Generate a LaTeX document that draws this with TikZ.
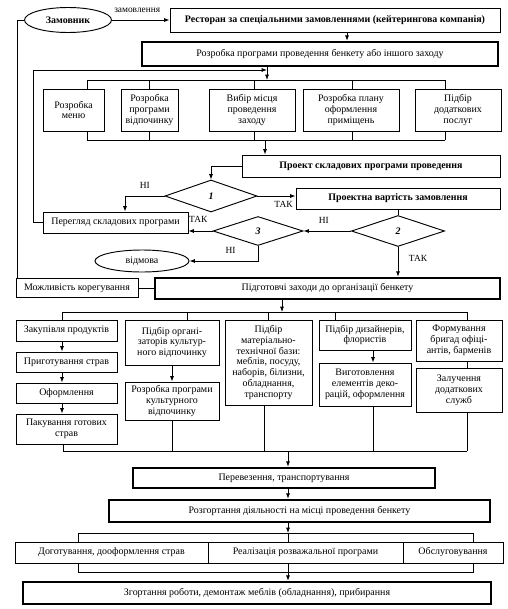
\documentclass[tikz,border=0pt]{standalone}
\usepackage{fontspec}
\setmainfont{Liberation Serif}
\usetikzlibrary{arrows.meta,calc,positioning,shapes.geometric}

\begin{document}
\begin{tikzpicture}[
    x=0.03cm,
    y=-0.03cm,
    font=\fontsize{8.5}{9.2}\selectfont,
    >={Latex[length=1.6mm,width=1.2mm]},
    line width=0.7pt,
    box/.style={draw=black,line width=0.8pt,fill=white,align=center,inner sep=1pt},
    heavy/.style={box,line width=2.2pt},
    dec/.style={diamond,draw=black,line width=0.8pt,fill=white,inner sep=0pt},
    oval/.style={ellipse,draw=black,line width=0.8pt,fill=white,inner sep=0pt},
    sz/.style 2 args={minimum width=#1*0.03cm,minimum height=#2*0.03cm},
    lab/.style={font=\fontsize{8}{9}\selectfont,inner sep=1pt}
]
\useasboundingbox (0,0) rectangle (508,609);

% order and project
\node[oval,sz={87}{25}] (zam) at (68,20) {\textbf{Замовник}};
\node[box,sz={330}{24}] (rest) at (335,20)
    {\textbf{Ресторан за спеціальними замовленнями (кейтерингова компанія)}};
\node[heavy,sz={356}{24}] (prog) at (320,54)
    {Розробка програми проведення бенкету або іншого заходу};

\node[box,sz={61}{42}] (t1) at (73.5,110) {Розробка\\меню};
\node[box,sz={57}{42}] (t2) at (149.5,110) {Розробка\\програми\\відпочинку};
\node[box,sz={86}{42}] (t3) at (252,110) {Вибір місця\\проведення\\заходу};
\node[box,sz={96}{42}] (t4) at (351,110) {Розробка плану\\оформлення\\приміщень};
\node[box,sz={86}{42}] (t5) at (458,110) {Підбір\\додаткових\\послуг};

\node[box,sz={258}{22}] (proekt) at (371,166)
    {\textbf{Проект складових програми проведення}};
\node[dec,sz={92}{32}] (d1) at (211,196) {\textbf{\textit{1}}};
\node[box,sz={204}{21}] (vart) at (398,198.5)
    {\textbf{Проектна вартість замовлення}};
\node[box,sz={145}{21}] (pereg) at (115.5,222.5) {Перегляд складових програми};
\node[dec,sz={93}{31}] (d2) at (398,231) {\textbf{\textit{2}}};
\node[dec,sz={90}{29}] (d3) at (258,231) {\textbf{\textit{3}}};
\node[oval,sz={94}{22}] (vidm) at (142,261) {відмова};

\node[box,sz={122}{19}] (mozh) at (77,288) {Можливість корегування};
\node[heavy,sz={345}{21}] (pidg) at (327.5,288.5)
    {Підготовчі заходи до організації бенкету};

% preparation columns
\node[box,sz={101}{21}] (c1a) at (66.5,330.5) {Закупівля продуктів};
\node[box,sz={101}{20}] (c1b) at (66.5,362) {Приготування страв};
\node[box,sz={101}{20}] (c1c) at (66.5,393) {Оформлення};
\node[box,sz={101}{30}] (c1d) at (66.5,429) {Пакування готових\\страв};
\node[box,sz={94}{45}] (c2a) at (172,342.5) {Підбір органі-\\заторів культур-\\ного відпочинку};
\node[box,sz={94}{38}] (c2b) at (172,401) {Розробка програми\\культурного\\відпочинку};
\node[box,sz={87}{85}] (c3) at (268.5,362.5)
    {Підбір\\матеріально-\\технічної бази:\\меблів, посуду,\\наборів, білизни,\\обладнання,\\транспорту};
\node[box,sz={92}{30}] (c4a) at (365,335) {Підбір дизайнерів,\\флористів};
\node[box,sz={92}{43}] (c4b) at (365,384.5) {Виготовлення\\елементів деко-\\рацій, оформлення};
\node[box,sz={86}{41}] (c5a) at (459,340.5) {Формування\\бригад офіці-\\антів, барменів};
\node[box,sz={86}{44}] (c5b) at (459,390) {Залучення\\додаткових\\служб};

\node[heavy,sz={302}{20}] (perev) at (284,478) {Перевезення, транспортування};
\node[heavy,sz={381}{22}] (rozg) at (299.5,511)
    {Розгортання діяльності на місці проведення бенкету};

\draw (78,533) rectangle (473,572);
\node[box,sz={193}{21}] (r1) at (111.5,552.5) {Доготування, дооформлення страв};
\node[box,sz={195}{21}] (r2) at (305.5,552.5) {Реалізація розважальної програми};
\node[box,sz={100}{21}] (r3) at (453,552.5) {Обслуговування};
\node[heavy,sz={468}{22}] (zgort) at (257,593)
    {Згортання роботи, демонтаж меблів (обладнання), прибирання};

% connectors, upper part
\coordinate (a1) at ($(rest.south)+(12,0)$);
\draw[->] (zam.east) -- node[lab,above=5pt,xshift=-3pt] {замовлення} (rest.west);
\draw[->] (a1) -- (a1 |- prog.north);
\draw (zam.west) -| (17,0 |- mozh.north);
\draw (mozh.east) -- (mozh.east -| pidg.west);

\coordinate (jn) at (267,70);
\draw[->] (prog.south -| jn) -- (267,80);
\draw[->] (pereg.west) -| (33,70) -- (jn);
\draw (87,80) -- (445,80);
\draw (87,140) -- (445,140);
\foreach \n/\x in {t1/87,t2/149,t3/254,t4/352,t5/445} {
    \draw (\x,80) -- (\n.north -| \x,0);
    \draw (\n.south -| \x,0) -- (\x,140);
}
\draw[->] (265,140) -- (proekt.north -| 265,0);

\draw[->] (proekt.west) -| (d1.north);
\draw[->] (d1.west) -| node[lab,pos=0.25,above=5pt] {НІ} (pereg.north -| 125,0);
\draw[->] (d1.east) -- node[lab,below=3pt,xshift=6pt] {ТАК} (d1.east -| vart.west);
\draw (vart.south) -- (d2.north);
\draw[->] (d2.west) -- node[lab,above=5pt,xshift=-3pt] {НІ} (d3.east);
\draw[->] (d3.west) -- node[lab,above=6pt,xshift=-2pt] {ТАК} (d3.west -| pereg.east);
\draw[->] (d3.south) |- node[lab,pos=0.7,above=5pt] {НІ} (vidm.east);
\draw[->] (d2.south) -- node[lab,right=8pt,pos=0.4] {ТАК} (d2.south |- pidg.north);

% connectors, lower part
\draw[->] (pidg.south -| 282,0) -- (282,312);
\draw (62,312) -- (467,312);
\foreach \n/\x in {c1a/62,c2a/187,c3/268,c4a/335,c5a/467}
    \draw (\x,312) -- (\n.north -| \x,0);
\draw[->] (c1a.south -| 62,0) -- (c1b.north -| 62,0);
\draw[->] (c1b.south -| 62,0) -- (c1c.north -| 62,0);
\draw[->] (c1c.south -| 62,0) -- (c1d.north -| 62,0);
\draw[->] (c2a.south) -- (c2b.north);
\draw[->] (c4a.south -| 373,0) -- (c4b.north -| 373,0);
\draw (c5a.south -| 467,0) -- (c5b.north -| 467,0);

\draw (63,451) -- (467,451);
\foreach \n/\x in {c1d/63,c2b/172,c3/264,c4b/373,c5b/467}
    \draw (\n.south -| \x,0) -- (\x,451);
\draw[->] (288,451) -- (perev.north -| 288,0);
\draw[->] (perev.south -| 288,0) -- (rozg.north -| 288,0);
\draw[->] (rozg.south -| 288,0) -- (288,533);
\draw (288,533) -- (r2.north -| 288,0);
\draw (r2.south -| 288,0) -- (288,572);
\draw[->] (288,572) -- (zgort.north -| 288,0);

\end{tikzpicture}
\end{document}
